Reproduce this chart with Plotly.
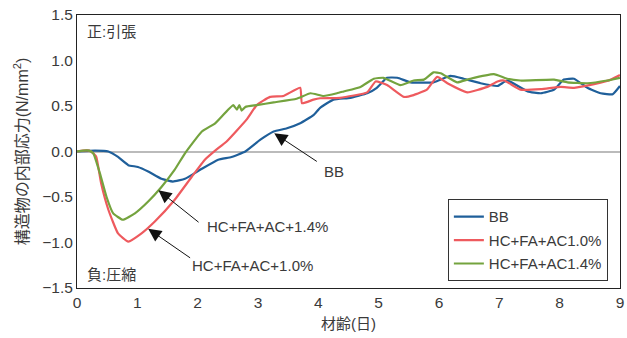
import plotly.graph_objects as go

# ---- data ----
bb_t = [0, 0.3, 0.52, 0.68, 0.85, 1.01, 1.18, 1.40, 1.59, 1.79, 2.07, 2.34, 2.56, 2.79, 3.04, 3.26, 3.48, 3.70, 3.92,
        4.03, 4.25, 4.53, 4.81, 4.97, 5.14, 5.31, 5.53, 5.91, 6.19, 6.41, 6.69, 6.97, 7.13, 7.47, 7.69, 7.91, 8.07,
        8.24, 8.46, 8.68, 8.88, 9.0]
bb_v = [0, 0.01, 0.0, -0.06, -0.15, -0.17, -0.22, -0.30, -0.33, -0.30, -0.19, -0.09, -0.06, 0.0, 0.13, 0.22, 0.255,
        0.31, 0.40, 0.48, 0.57, 0.59, 0.64, 0.70, 0.81, 0.81, 0.76, 0.76, 0.83, 0.80, 0.75, 0.72, 0.78, 0.66, 0.64,
        0.68, 0.79, 0.80, 0.70, 0.64, 0.63, 0.72]

r_t = [0, 0.1, 0.2, 0.27, 0.32, 0.40, 0.52, 0.68, 0.85, 1.07, 1.29, 1.62, 1.90, 2.12, 2.29, 2.48, 2.81, 2.98, 3.20,
       3.42, 3.70, 3.73, 3.92, 4.03, 4.36, 4.81, 4.95, 5.14, 5.42, 5.58, 5.80, 5.97, 6.14, 6.47, 6.80, 6.97, 7.08,
       7.35, 7.69, 8.02, 8.24, 8.57, 8.85, 9.0]
r_v = [0, 0.01, 0.01, -0.02, -0.06, -0.35, -0.64, -0.90, -0.99, -0.90, -0.77, -0.53, -0.28, -0.09, 0.01, 0.11, 0.35,
       0.51, 0.60, 0.61, 0.70, 0.53, 0.57, 0.585, 0.59, 0.65, 0.77, 0.73, 0.60, 0.62, 0.68, 0.82, 0.75, 0.65, 0.71,
       0.77, 0.78, 0.68, 0.685, 0.71, 0.70, 0.74, 0.79, 0.84]

g_t = [0, 0.1, 0.2, 0.27, 0.38, 0.49, 0.60, 0.76, 0.96, 1.18, 1.40, 1.62, 1.79, 2.07, 2.29, 2.59, 2.65, 2.69, 2.73,
       2.79, 2.98, 3.26, 3.64, 3.87, 4.09, 4.31, 4.42, 4.70, 4.92, 5.08, 5.36, 5.58, 5.75, 5.91, 6.03, 6.30, 6.52,
       6.91, 7.13, 7.35, 7.91, 8.13, 8.46, 8.79, 9.0]
g_v = [0, 0.01, 0.01, -0.02, -0.24, -0.50, -0.68, -0.75, -0.68, -0.55, -0.39, -0.20, -0.02, 0.22, 0.31, 0.51, 0.46,
       0.51, 0.45, 0.49, 0.51, 0.54, 0.58, 0.64, 0.61, 0.64, 0.66, 0.71, 0.80, 0.81, 0.73, 0.78, 0.79, 0.87, 0.86,
       0.76, 0.80, 0.85, 0.80, 0.78, 0.79, 0.76, 0.75, 0.78, 0.81]

series_names = ["BB", "HC+FA+AC1.0%", "HC+FA+AC1.4%"]
colors = ["#1F5F9A", "#EE5A5E", "#74A33E"]

x_ticks = [0, 1, 2, 3, 4, 5, 6, 7, 8, 9]
y_ticks = [-1.5, -1.0, -0.5, 0.0, 0.5, 1.0, 1.5]

# annotation arrows: (label, head_x, head_y, tail_x, tail_y, text_x, text_y)
arrows = [
    ("BB", 3.27, 0.20, 4.0, -0.12, 4.06, -0.22),
    ("HC+FA+AC+1.4%", 1.35, -0.425, 2.04, -0.79, 2.12, -0.82),
    ("HC+FA+AC+1.0%", 1.18, -0.85, 1.90, -1.18, 1.87, -1.25),
]

TXT = "#3a3a3a"
FONT = "Liberation Sans, Noto Sans CJK JP, sans-serif"

fig = go.Figure()
for t, v, n, c in zip([bb_t, r_t, g_t], [bb_v, r_v, g_v], series_names, colors):
    fig.add_trace(go.Scatter(x=t, y=v, mode="lines", name=n, legendgroup=n,
                             line=dict(color=c, width=2.2, shape="spline", smoothing=0.4)))

for lab, hx, hy, tx, ty, lx, ly in arrows:
    fig.add_annotation(x=hx, y=hy, ax=tx, ay=ty, xref="x", yref="y", axref="x", ayref="y",
                       text="", showarrow=True, arrowhead=2, arrowsize=2.6, arrowwidth=1, arrowcolor="#111")
    fig.add_annotation(x=lx, y=ly, xref="x", yref="y", text=lab, showarrow=False,
                       xanchor="left", yanchor="middle", font=dict(size=15, color=TXT, family=FONT))

fig.add_annotation(x=0.015, y=0.938, xref="paper", yref="paper", text="正:引張", showarrow=False,
                   xanchor="left", yanchor="middle", font=dict(size=15, color=TXT, family=FONT))
fig.add_annotation(x=0.015, y=0.05, xref="paper", yref="paper", text="負:圧縮", showarrow=False,
                   xanchor="left", yanchor="middle", font=dict(size=15, color=TXT, family=FONT))

fig.update_layout(
    width=627, height=338,
    margin=dict(l=77, r=7, t=15, b=50),
    paper_bgcolor="white", plot_bgcolor="white",
    font=dict(family=FONT, size=15, color=TXT),
    showlegend=True,
    legend=dict(x=0.683, y=0.325, xanchor="left", yanchor="top",
                bgcolor="white", bordercolor="#333", borderwidth=1,
                font=dict(size=15, color=TXT, family=FONT),
                tracegroupgap=1, itemwidth=30),
    xaxis=dict(range=[0, 9.001], tickvals=x_ticks, ticks="", showgrid=False, zeroline=False,
               showline=True, linecolor="#222", linewidth=1, mirror=True, automargin=False,
               title=dict(text="材齢(日)", standoff=8, font=dict(size=15)), tickfont=dict(size=15.5)),
    yaxis=dict(range=[-1.5, 1.5], tickvals=y_ticks, tickformat=".1f", ticks="", showgrid=False,
               zeroline=True, zerolinecolor="#bbbbbb", zerolinewidth=1.5, automargin=False,
               showline=True, linecolor="#222", linewidth=1, mirror=True,
               title=dict(text="構造物の内部応力(N/mm<sup>2</sup>)", standoff=9, font=dict(size=16)),
               tickfont=dict(size=15.5)),
)

fig.write_html("out.html", post_script="document.body.style.margin='0';",
               config={"displayModeBar": False})
